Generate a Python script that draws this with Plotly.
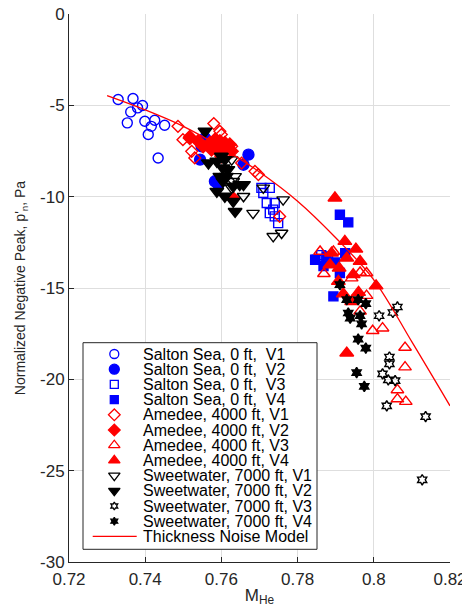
import plotly.graph_objects as go

# ---------------- tick labels ----------------
x_ticks = [0.72, 0.74, 0.76, 0.78, 0.80, 0.82]
x_tick_labels = ["0.72", "0.74", "0.76", "0.78", "0.8", "0.82"]
y_ticks = [-30, -25, -20, -15, -10, -5, 0]
y_tick_labels = ["-30", "-25", "-20", "-15", "-10", "-5", "0"]

# ---------------- data (M_He, normalized negative peak) ----------------
salton_v1_m = [0.7329, 0.7368, 0.7362, 0.7380, 0.7393, 0.7353, 0.7399, 0.7425, 0.7416, 0.7451, 0.7408, 0.7434]
salton_v1_p = [-4.68, -4.63, -5.36, -5.14, -5.01, -5.96, -5.87, -5.82, -6.15, -6.09, -6.60, -7.88]

salton_v2_m = [0.7557, 0.7548, 0.7544, 0.7574, 0.7583, 0.7592, 0.7671, 0.7658, 0.7603]
salton_v2_p = [-6.79, -7.24, -7.97, -7.10, -9.16, -9.34, -7.70, -8.25, -7.50]

salton_v3_m = [0.7705, 0.7727, 0.7710, 0.7719, 0.7740, 0.7736, 0.7727, 0.7740, 0.7749, 0.7850, 0.7862, 0.7880]
salton_v3_p = [-9.52, -9.52, -9.80, -10.35, -10.35, -10.71, -10.90, -11.08, -11.45, -13.45, -13.20, -13.40]

salton_v4_m = [0.7911, 0.7933, 0.7894, 0.7846, 0.7876, 0.7911, 0.7898, 0.7925, 0.7868]
salton_v4_p = [-10.99, -11.41, -15.46, -13.45, -13.27, -14.18, -13.60, -13.10, -13.80]

amedee_v1_m = [0.7486, 0.7580, 0.7596, 0.7600, 0.7499, 0.7517, 0.7522, 0.7530, 0.7627, 0.7653, 0.7688, 0.7697, 0.7753]
amedee_v1_p = [-6.15, -6.00, -6.42, -6.60, -6.88, -6.70, -7.52, -7.88, -7.24, -8.16, -8.61, -8.79, -11.08]

amedee_v2_m = [0.7517, 0.7539, 0.7570, 0.7583, 0.7596, 0.7609, 0.7622, 0.7574, 0.7591, 0.7609, 0.7627, 0.7600, 0.7578, 0.7552, 0.7631]
amedee_v2_p = [-6.79, -6.97, -7.06, -6.88, -6.97, -7.06, -7.15, -7.42, -7.52, -7.42, -7.52, -7.79, -7.24, -7.24, -10.10]

amedee_v3_m = [0.7859, 0.7894, 0.7869, 0.7942, 0.7964, 0.7981, 0.7981, 0.7964, 0.7997, 0.8023, 0.8082, 0.8082, 0.8062, 0.8062, 0.8084]
amedee_v3_p = [-13.00, -13.00, -14.22, -14.46, -14.15, -14.18, -15.42, -16.28, -17.34, -17.20, -18.26, -19.33, -20.58, -21.08, -21.22]

amedee_v4_m = [0.7898, 0.7924, 0.7953, 0.7889, 0.7929, 0.7964, 0.7885, 0.7909, 0.7946, 0.7907, 0.8006, 0.7920, 0.7960, 0.7942, 0.7929]
amedee_v4_p = [-10.07, -12.45, -12.87, -13.09, -13.36, -13.54, -13.73, -13.91, -14.27, -14.64, -14.88, -15.32, -15.24, -15.74, -18.56]

sweet_v1_m = [0.7627, 0.7636, 0.7627, 0.7658, 0.7683, 0.7710, 0.7762, 0.7758, 0.7736, 0.7631]
sweet_v1_p = [-7.97, -8.89, -9.52, -9.98, -10.90, -9.52, -10.16, -11.99, -12.17, -9.16]

sweet_v2_m = [0.7557, 0.7566, 0.7588, 0.7600, 0.7609, 0.7604, 0.7617, 0.7596, 0.7613, 0.7604, 0.7588, 0.7609, 0.7631, 0.7636, 0.7648, 0.7658, 0.7631]
sweet_v2_p = [-6.42, -8.16, -8.06, -7.79, -7.97, -8.43, -8.52, -8.89, -8.89, -9.16, -9.71, -9.98, -10.26, -10.81, -9.34, -9.34, -9.43]

sweet_v3_m = [0.8014, 0.8050, 0.8062, 0.8041, 0.8041, 0.8023, 0.8038, 0.8056, 0.8034, 0.8136, 0.8127]
sweet_v3_p = [-16.52, -16.34, -16.04, -18.78, -19.15, -19.70, -20.03, -20.07, -21.45, -22.04, -25.50]

sweet_v4_m = [0.7911, 0.7929, 0.7959, 0.7979, 0.7933, 0.7938, 0.7964, 0.7968, 0.7959, 0.7979, 0.7955, 0.7975]
sweet_v4_p = [-14.82, -15.64, -15.64, -15.86, -16.37, -16.65, -16.52, -16.96, -17.80, -18.29, -19.63, -20.39]

model_m = [0.730, 0.740, 0.750, 0.760, 0.770, 0.780, 0.790, 0.800, 0.810, 0.820]
model_p = [-4.47, -5.25, -6.15, -7.30, -8.65, -10.25, -12.25, -14.55, -17.95, -21.45]

series_names = [
    "Salton Sea, 0 ft,  V1", "Salton Sea, 0 ft,  V2", "Salton Sea, 0 ft,  V3", "Salton Sea, 0 ft,  V4",
    "Amedee, 4000 ft, V1", "Amedee, 4000 ft, V2", "Amedee, 4000 ft, V3", "Amedee, 4000 ft, V4",
    "Sweetwater, 7000 ft, V1", "Sweetwater, 7000 ft, V2", "Sweetwater, 7000 ft, V3", "Sweetwater, 7000 ft, V4",
]
model_name = "Thickness Noise Model"

BLUE = "#0000ff"
RED = "#ff0000"
BLACK = "#000000"

# x, y, symbol, color, data size, legend size
styles = [
    (salton_v1_m, salton_v1_p, "circle-open", BLUE, 10, 9),
    (salton_v2_m, salton_v2_p, "circle", BLUE, 11, 10),
    (salton_v3_m, salton_v3_p, "square-open", BLUE, 9, 8),
    (salton_v4_m, salton_v4_p, "square", BLUE, 9, 8),
    (amedee_v1_m, amedee_v1_p, "diamond-open", RED, 9, 9),
    (amedee_v2_m, amedee_v2_p, "diamond", RED, 10, 9),
    (amedee_v3_m, amedee_v3_p, "triangle-up-open", RED, 11, 10),
    (amedee_v4_m, amedee_v4_p, "triangle-up", RED, 12, 10),
    (sweet_v1_m, sweet_v1_p, "triangle-down-open", BLACK, 11, 10),
    (sweet_v2_m, sweet_v2_p, "triangle-down", BLACK, 12, 10),
    (sweet_v3_m, sweet_v3_p, "hexagram-open", BLACK, 8, 6),
    (sweet_v4_m, sweet_v4_p, "hexagram", BLACK, 8, 6),
]

FONT = "Liberation Sans, Arial, Helvetica, sans-serif"
# page body adds an 8px margin at left/top, so the figure is sized to fill the rest
W, H = 462, 601
ML, MR, MT, MB = 61, 20, 6, 47
OFF = 8  # body offset used to express legend positions in page pixels

fig = go.Figure()

for name, (xs, ys, sym, col, sz, lsz) in zip(series_names, styles):
    fig.add_trace(go.Scatter(
        x=xs, y=ys, mode="markers", name=name, showlegend=False,
        marker=dict(symbol=sym, color=col, size=sz, line=dict(color=col, width=1.4)),
    ))

fig.add_trace(go.Scatter(
    x=model_m, y=model_p, mode="lines", name=model_name, showlegend=False,
    line=dict(color=RED, width=1.3, shape="spline"),
))

# ---------------- manual legend on a pixel overlay ----------------
box_l, box_r, box_t, box_b = 83, 317, 342.7, 549.3
row0, row_step = 354.0, 15.2
mark_x, text_x = 114.3, 141
fig.add_trace(go.Scatter(
    x=[box_l, box_r, box_r, box_l, box_l], y=[box_t, box_t, box_b, box_b, box_t],
    xaxis="x2", yaxis="y2", mode="lines", fill="toself", fillcolor="white",
    line=dict(color="#262626", width=1), showlegend=False, hoverinfo="skip",
))
annotations = []
for i, (name, (xs, ys, sym, col, sz, lsz)) in enumerate(zip(series_names, styles)):
    ry = row0 + i * row_step
    fig.add_trace(go.Scatter(
        x=[mark_x], y=[ry], xaxis="x2", yaxis="y2", mode="markers", showlegend=False,
        hoverinfo="skip",
        marker=dict(symbol=sym, color=col, size=lsz, line=dict(color=col, width=1.3)),
    ))
    annotations.append(dict(x=text_x, y=ry, xref="x2", yref="y2", text=name, showarrow=False,
                            xanchor="left", yanchor="middle",
                            font=dict(family=FONT, size=16, color="black")))
ry = row0 + len(series_names) * row_step
fig.add_trace(go.Scatter(
    x=[92.7, 136.7], y=[ry, ry], xaxis="x2", yaxis="y2", mode="lines", showlegend=False,
    hoverinfo="skip", line=dict(color=RED, width=1.3),
))
annotations.append(dict(x=text_x, y=ry, xref="x2", yref="y2", text=model_name, showarrow=False,
                        xanchor="left", yanchor="middle",
                        font=dict(family=FONT, size=16, color="black")))

axis_common = dict(
    showline=True, linecolor="#262626", linewidth=1, mirror=False,
    ticks="inside", ticklen=5, tickcolor="#262626", tickwidth=1,
    showgrid=True, gridcolor="#dedede", gridwidth=1, zeroline=False,
    tickfont=dict(family=FONT, size=17, color="#262626"),
    automargin=False, ticklabeloverflow="allow",
)

fig.update_layout(
    width=W, height=H,
    margin=dict(l=ML, r=MR, t=MT, b=MB, pad=0),
    paper_bgcolor="white", plot_bgcolor="white",
    font=dict(family=FONT, color="#262626"),
    showlegend=False,
    xaxis=dict(range=[0.72, 0.82], tickvals=x_ticks, ticktext=x_tick_labels,
               ticklabelstandoff=2,
               title=dict(text="M<sub>He</sub>", font=dict(family=FONT, size=17, color="#262626"), standoff=0),
               **axis_common),
    yaxis=dict(range=[-30, 0], tickvals=y_ticks, ticktext=y_tick_labels,
               title=dict(text="Normalized Negative Peak, p'<sub>n</sub>, Pa",
                          font=dict(family=FONT, size=14, color="#262626"), standoff=11),
               **axis_common),
    xaxis2=dict(overlaying="x", anchor="y2", range=[ML + OFF, W - MR + OFF], visible=False, fixedrange=True),
    yaxis2=dict(overlaying="y", anchor="x2", range=[H - MB + OFF, MT + OFF], visible=False, fixedrange=True),
    annotations=annotations,
)

fig.write_html("out.html")
